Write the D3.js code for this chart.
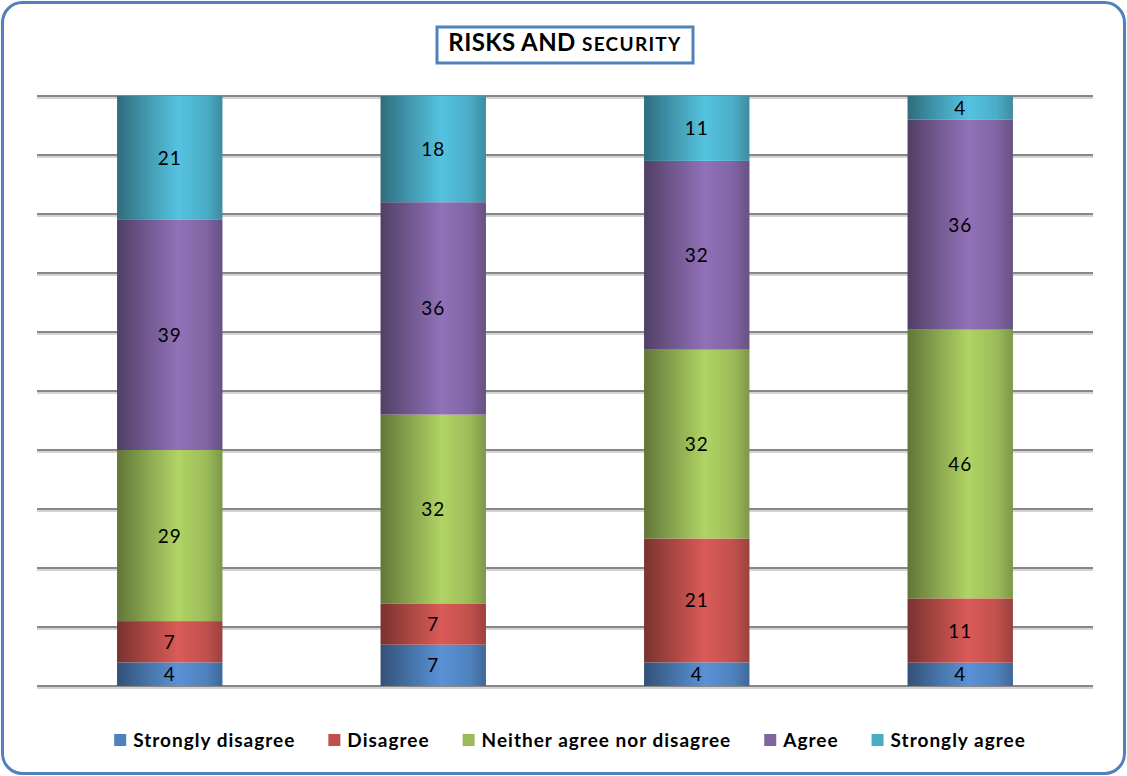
<!DOCTYPE html>
<html>
<head>
<meta charset="utf-8">
<script src="https://cdn.jsdelivr.net/npm/d3@7"></script>
<style>
  body { margin: 0; background: #fff; }
  svg text { font-family: Lato, "Open Sans", sans-serif; }
</style>
</head>
<body>
<svg id="chart"></svg>
<script>
var groups = ["A", "B", "C", "D"];
var series = ["Strongly disagree", "Disagree", "Neither agree nor disagree", "Agree", "Strongly agree"];
var colors = ["#4F81BD", "#C0504D", "#9BBB59", "#8064A2", "#4BACC6"];
var stronglyDisagree = [4, 7, 4, 4];
var disagree = [7, 7, 21, 11];
var neither = [29, 32, 32, 46];
var agree = [39, 36, 32, 36];
var stronglyAgree = [21, 18, 11, 4];
var gridTicks = [0, 0.1, 0.2, 0.3, 0.4, 0.5, 0.6, 0.7, 0.8, 0.9, 1];

var width = 1127,
    height = 776;

var svg = d3.select("#chart").attr("width", width).attr("height", height);

// rows for the stack
var allValues = [stronglyDisagree, disagree, neither, agree, stronglyAgree];
var rows = groups.map(function(g, i) {
	var r = { group: g };
	series.forEach(function(s, j) { r[s] = allValues[j][i]; });
	return r;
});

var stacked = d3.stack().keys(series).offset(d3.stackOffsetExpand)(rows);

var x = d3.scaleBand().domain(groups).range([38, 1092]).paddingInner(0.6).paddingOuter(0.3);
var y = d3.scaleLinear().domain([0, 1]).range([686, 96]);

// gradients, cylinder look
var defs = svg.append("defs");
colors.forEach(function(c, i) {
	var g = defs.append("linearGradient").attr("id", "grad" + i)
		.attr("x1", 0).attr("x2", 1).attr("y1", 0).attr("y2", 0);
	var base = d3.color(c);
	g.append("stop").attr("offset", 0).attr("stop-color", base.darker(1.3));
	g.append("stop").attr("offset", 0.3).attr("stop-color", base.darker(0.3));
	g.append("stop").attr("offset", 0.58).attr("stop-color", base.brighter(0.35));
	g.append("stop").attr("offset", 0.85).attr("stop-color", base);
	g.append("stop").attr("offset", 1).attr("stop-color", base.darker(0.6));
});

// outer frame
svg.append("rect").attr("x", 2.5).attr("y", 2.5).attr("width", width - 5).attr("height", height - 5)
	.attr("rx", 20).attr("ry", 20)
	.attr("fill", "#fff").attr("stroke", "#4F81BD").attr("stroke-width", 3);

// gridlines
svg.append("g").selectAll("line.shadow").data(gridTicks).enter().append("line")
	.attr("x1", 37).attr("x2", 1093)
	.attr("y1", function(d) { return y(d) + 2; }).attr("y2", function(d) { return y(d) + 2; })
	.attr("stroke", "#d4d4d4").attr("stroke-width", 2);
svg.append("g").selectAll("line.grid").data(gridTicks).enter().append("line")
	.attr("x1", 37).attr("x2", 1093)
	.attr("y1", function(d) { return y(d); }).attr("y2", function(d) { return y(d); })
	.attr("stroke", "#878787").attr("stroke-width", 2);

// bars
var layer = svg.append("g").selectAll("g").data(stacked).enter().append("g")
	.attr("fill", function(d, i) { return "url(#grad" + i + ")"; });

layer.selectAll("rect").data(function(d) { return d; }).enter().append("rect")
	.attr("x", function(d) { return x(d.data.group); })
	.attr("width", x.bandwidth())
	.attr("y", function(d) { return y(d[1]); })
	.attr("height", function(d) { return y(d[0]) - y(d[1]); });

layer.each(function(s) {
	d3.select(this).selectAll("text").data(s).enter().append("text")
		.attr("x", function(d) { return x(d.data.group) + x.bandwidth() / 2; })
		.attr("y", function(d) { return (y(d[0]) + y(d[1])) / 2 + 7; })
		.attr("text-anchor", "middle")
		.attr("font-size", 19)
		.attr("letter-spacing", 1)
		.attr("fill", "#000")
		.text(function(d) { return d.data[s.key]; });
});

// title
svg.append("rect").attr("x", 437).attr("y", 27).attr("width", 256).attr("height", 36)
	.attr("fill", "#fff").attr("stroke", "#4F81BD").attr("stroke-width", 3);
var title = svg.append("text").attr("x", 565).attr("y", 51).attr("text-anchor", "middle")
	.attr("font-weight", "bold").attr("fill", "#000");
title.append("tspan").attr("font-size", 24).attr("letter-spacing", 0.4).text("RISKS AND ");
title.append("tspan").attr("font-size", 19).attr("letter-spacing", 1.3).text("SECURITY");

// legend
var legend = svg.append("g");
var lx = 0;
series.forEach(function(s, i) {
	var item = legend.append("g").attr("transform", "translate(" + lx + ",0)");
	item.append("rect").attr("x", 0).attr("y", -6).attr("width", 12).attr("height", 12).attr("fill", colors[i]);
	var t = item.append("text").attr("x", 19).attr("y", 7).attr("font-size", 19)
		.attr("letter-spacing", 1)
		.attr("font-weight", "bold").attr("fill", "#000").text(s);
	lx += 19 + t.node().getComputedTextLength() + 33;
});
lx -= 33;
legend.attr("transform", "translate(" + (570 - lx / 2) + ",740)");
</script>
</body>
</html>
